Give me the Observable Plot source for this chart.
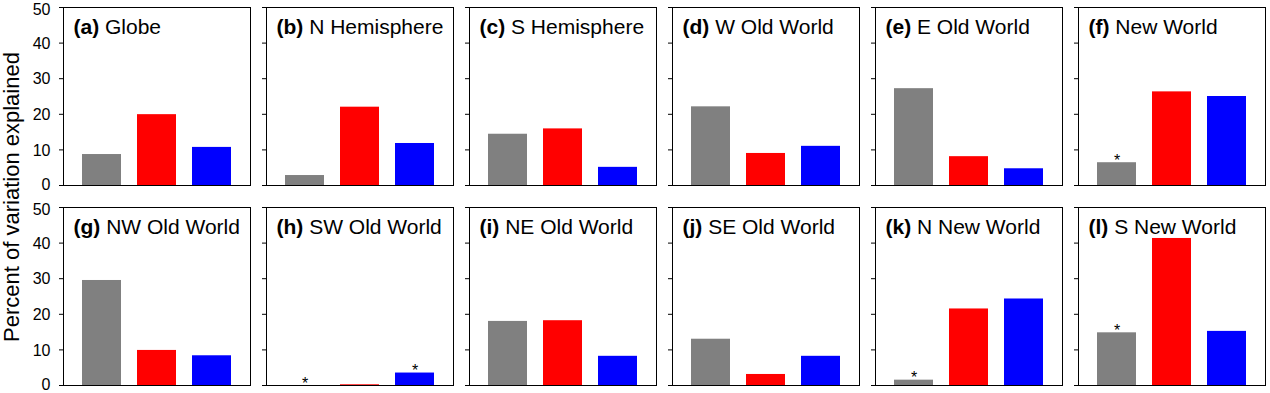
<!DOCTYPE html>
<html>
<head>
<meta charset="utf-8">
<script src="https://cdn.jsdelivr.net/npm/d3@7"></script>
<script src="https://cdn.jsdelivr.net/npm/@observablehq/plot@0.6"></script>
<style>
  body { margin: 0; background: #fff; }
  #chart svg { display: block; }
</style>
</head>
<body>
<div id="chart"></div>
<script>
// Panel titles (bold letter + region name)
const panelLetters = ["(a)", "(b)", "(c)", "(d)", "(e)", "(f)", "(g)", "(h)", "(i)", "(j)", "(k)", "(l)"];
const panelNames = ["Globe", "N Hemisphere", "S Hemisphere", "W Old World", "E Old World", "New World",
                    "NW Old World", "SW Old World", "NE Old World", "SE Old World", "N New World", "S New World"];
// Three series per panel (gray, red, blue bars)
const seriesKeys = ["gray", "red", "blue"];
const seriesColors = ["#808080", "#ff0000", "#0000ff"];
const grayValues = [8.7, 2.8, 14.4, 22.1, 27.2, 6.4, 29.5, 0.0, 18.0, 13.0, 1.5, 14.8];
const redValues  = [19.9, 22.0, 15.9, 9.0, 8.1, 26.3, 9.85, 0.2, 18.2, 3.1, 21.5, 41.3];
const blueValues = [10.7, 11.8, 5.1, 11.0, 4.7, 25.0, 8.35, 3.5, 8.2, 8.2, 24.3, 15.2];
// Non-significant markers (*)
const grayStars = [false, false, false, false, false, true, false, true, false, false, true, true];
const redStars  = [false, false, false, false, false, false, false, false, false, false, false, false];
const blueStars = [false, false, false, false, false, false, false, true, false, false, false, false];
const yTicks = [0, 10, 20, 30, 40, 50];
const yLabel = "Percent of variation explained";

const valuesBySeries = {gray: grayValues, red: redValues, blue: blueValues};
const starsBySeries = {gray: grayStars, red: redStars, blue: blueStars};

const bars = [];
const stars = [];
const titles = [];
panelNames.forEach((name, i) => {
  const row = Math.floor(i / 6), col = i % 6;
  titles.push({row, col, title: panelLetters[i] + " " + name});
  seriesKeys.forEach(s => {
    const d = {row, col, series: s, value: valuesBySeries[s][i]};
    bars.push(d);
    if (starsBySeries[s][i]) stars.push(d);
  });
});

const FONT = "'Liberation Sans', Arial, Helvetica, sans-serif";
const yMin = d3.min(yTicks), yMax = d3.max(yTicks);
const labelOpts = {tickSize: 0, tickPadding: 13, fontSize: 16, label: null};

const chart = Plot.plot({
  width: 1270,
  height: 393,
  marginLeft: 61,
  marginRight: 4,
  marginTop: 7,
  marginBottom: 8,
  style: {fontFamily: FONT, color: "black", background: "white"},
  fx: {domain: [0, 1, 2, 3, 4, 5], padding: 0.081, axis: null},
  fy: {domain: [0, 1], padding: 0.11, axis: null},
  x: {domain: seriesKeys, paddingInner: 0.3, paddingOuter: 0.32, axis: null},
  y: {domain: [yMin, yMax], axis: null},
  color: {domain: seriesKeys, range: seriesColors},
  marks: [
    Plot.barY(bars, {fx: "col", fy: "row", x: "series", y: "value", fill: "series"}),
    Plot.text(stars, {fx: "col", fy: "row", x: "series", y: "value", text: () => "*",
                      fontSize: 16, lineAnchor: "middle", dy: -2, fill: "black"}),
    Plot.frame({stroke: "black", strokeWidth: 1}),
    // tick marks on every panel
    Plot.axisY({ticks: yTicks, tickSize: 4, fill: "none", label: null, facetAnchor: null}),
    // tick labels on the left column only (edge labels nudged inside the picture)
    Plot.axisY({...labelOpts, ticks: yTicks.filter(t => t > yMin && t < yMax), dy: 0.5}),
    Plot.axisY({...labelOpts, ticks: [yMax], dy: 2.5}),
    Plot.axisY({...labelOpts, ticks: [yMin], dy: -0.8}),
    Plot.text(titles, {fx: "col", fy: "row", frameAnchor: "top-left", text: "title",
                       dx: 10, dy: 12, fontSize: 21, lineAnchor: "top", fill: "black"})
  ]
});

// Make the panel letter bold
d3.select(chart).selectAll("text").each(function() {
  const t = this.textContent;
  const m = /^(\([a-l]\)) (.*)$/.exec(t);
  if (m && this.childElementCount === 0) {
    this.textContent = "";
    d3.select(this).append("tspan").attr("font-weight", "bold").text(m[1]);
    d3.select(this).append("tspan").text("\u00a0" + m[2]);
  }
});

// Shared y-axis label
d3.select(chart).append("text")
  .attr("transform", "translate(19,197) rotate(-90)")
  .attr("text-anchor", "middle")
  .attr("font-family", FONT)
  .attr("font-size", 22)
  .attr("fill", "black")
  .text(yLabel);

document.getElementById("chart").appendChild(chart);
</script>
</body>
</html>
